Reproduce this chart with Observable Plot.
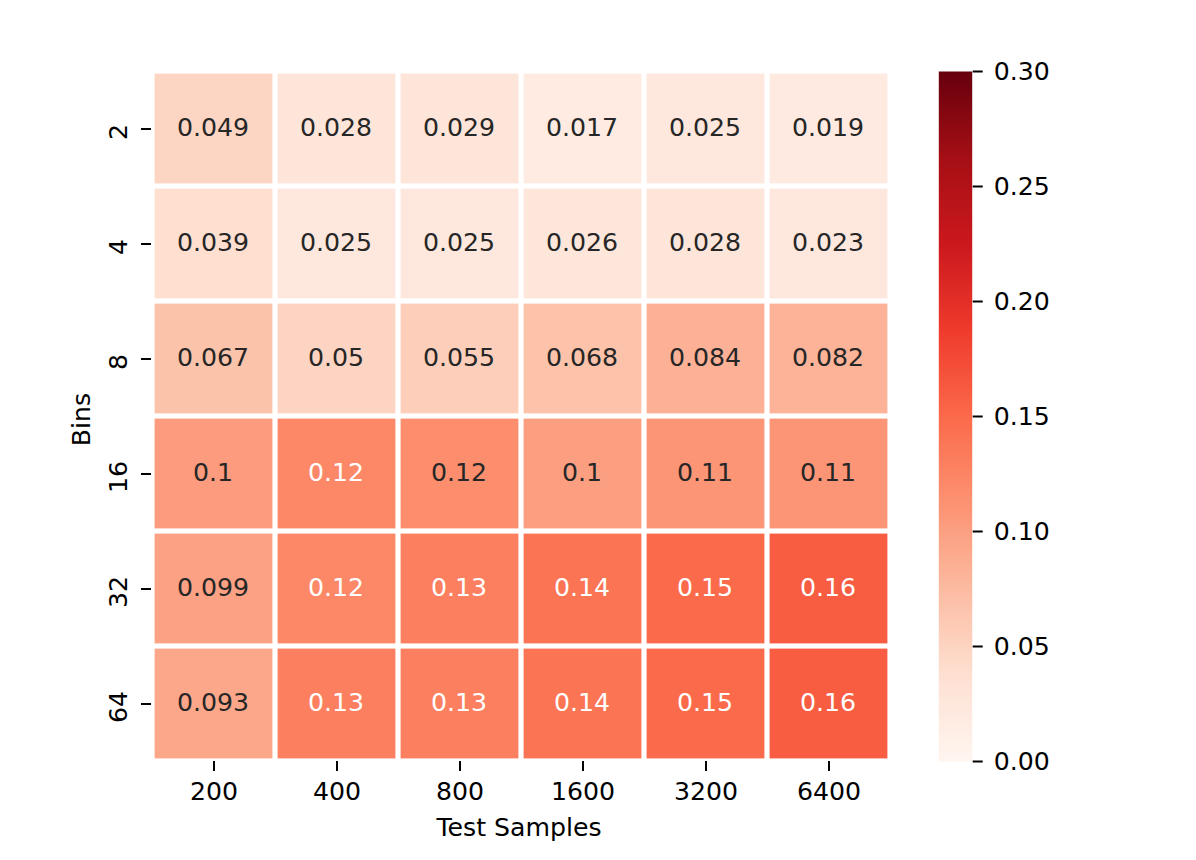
<!DOCTYPE html>
<html><head><meta charset="utf-8">
<script src="https://cdn.jsdelivr.net/npm/d3@7"></script>
<script src="https://cdn.jsdelivr.net/npm/@observablehq/plot@0.6"></script>
<style>
html,body{margin:0;padding:0;background:#fff;}
#chart{display:flex;width:1196px;height:860px;}
</style></head><body><div id="chart"></div>
<script>
// ---- data ----
const testSamples = ["200", "400", "800", "1600", "3200", "6400"];
const bins = ["2", "4", "8", "16", "32", "64"];
const bins2 = [0.049, 0.028, 0.029, 0.017, 0.025, 0.019];
const bins4 = [0.039, 0.025, 0.025, 0.026, 0.028, 0.023];
const bins8 = [0.067, 0.05, 0.055, 0.068, 0.084, 0.082];
const bins16 = [0.104, 0.122, 0.116, 0.101, 0.11, 0.11];
const bins32 = [0.099, 0.122, 0.13, 0.14, 0.15, 0.16];
const bins64 = [0.093, 0.13, 0.13, 0.14, 0.15, 0.16];
const colorTicks = [0, 0.05, 0.1, 0.15, 0.2, 0.25, 0.3];
const vmin = 0, vmax = 0.3;

// ---- styling ----
const reds = ["#fff5f0","#fee0d2","#fcbba1","#fc9272","#fb6a4a","#ef3b2c","#cb181d","#a50f15","#67000d"];
const interp = d3.piecewise(d3.interpolateRgb, reds);
const font = "'DejaVu Sans', sans-serif";
const fs = 25.2;

const rows = [bins2, bins4, bins8, bins16, bins32, bins64];
const cells = bins.flatMap((b, i) => testSamples.map((s, j) => ({bin: b, samples: s, value: rows[i][j]})));
const fmt = d3.format(".2~g");
const lum = c => {
  const {r, g, b} = d3.rgb(c);
  const f = v => { v /= 255; return v <= 0.03928 ? v / 12.92 : Math.pow((v + 0.055) / 1.055, 2.4); };
  return 0.2126 * f(r) + 0.7152 * f(g) + 0.0722 * f(b);
};
const isDark = d => lum(interp(Math.min(1, Math.max(0, (d.value - vmin) / (vmax - vmin))))) > 0.408;

const mid = {textAnchor: "middle", lineAnchor: "middle", fontSize: fs};

const heat = Plot.plot({
  width: 910, height: 860,
  marginLeft: 151, marginRight: 20, marginTop: 71, marginBottom: 99,
  style: {fontFamily: font, fontSize: fs + "px", color: "#000", background: "transparent"},
  x: {type: "band", domain: testSamples, padding: 0, label: null},
  y: {type: "band", domain: bins, padding: 0, label: null},
  color: {type: "linear", domain: [vmin, vmax], interpolate: interp},
  marks: [
    Plot.cell(cells, {x: "samples", y: "bin", fill: "value", inset: 2.6}),
    Plot.text(cells.filter(isDark), {x: "samples", y: "bin", text: d => fmt(d.value), fill: "#262626", dy: -1.5, dx: -1, ...mid}),
    Plot.text(cells.filter(d => !isDark(d)), {x: "samples", y: "bin", text: d => fmt(d.value), fill: "#ffffff", dy: -1.5, dx: -1, ...mid}),
    Plot.axisX({tickSize: 10, fill: "none", stroke: "#000", strokeWidth: 2}),
    Plot.axisY({tickSize: 10, fill: "none", stroke: "#000", strokeWidth: 2}),
    Plot.text(testSamples, {x: d => d, text: d => d, frameAnchor: "bottom", dy: 30.5, fill: "#000", ...mid}),
    Plot.text(bins, {y: d => d, text: d => d, frameAnchor: "left", dx: -32.3, dy: 3, rotate: -90, fill: "#000", ...mid}),
    Plot.text(["Test Samples"], {text: d => d, frameAnchor: "bottom", dy: 66, dx: -2, fill: "#000", ...mid}),
    Plot.text(["Bins"], {text: d => d, frameAnchor: "left", dx: -69.8, dy: 3, rotate: -90, fill: "#000", ...mid})
  ]
});

const bar = Plot.plot({
  width: 286, height: 860,
  marginLeft: 28.3, marginRight: 224.3, marginTop: 71, marginBottom: 99,
  style: {fontFamily: font, fontSize: fs + "px", color: "#000", background: "transparent"},
  x: {domain: [0, 1], axis: null},
  y: {domain: [vmin, vmax]},
  color: {type: "linear", domain: [vmin, vmax], interpolate: interp},
  marks: [
    Plot.raster({x1: 0, x2: 1, y1: vmin, y2: vmax, fill: (x, y) => y}),
    Plot.axisY({anchor: "right", ticks: colorTicks, tickFormat: d3.format(".2f"), tickSize: 10, tickPadding: 11.6, stroke: "#000", strokeWidth: 2, fill: "#000", label: null, fontSize: fs})
  ]
});

document.getElementById("chart").append(heat, bar);
</script>
</body></html>
